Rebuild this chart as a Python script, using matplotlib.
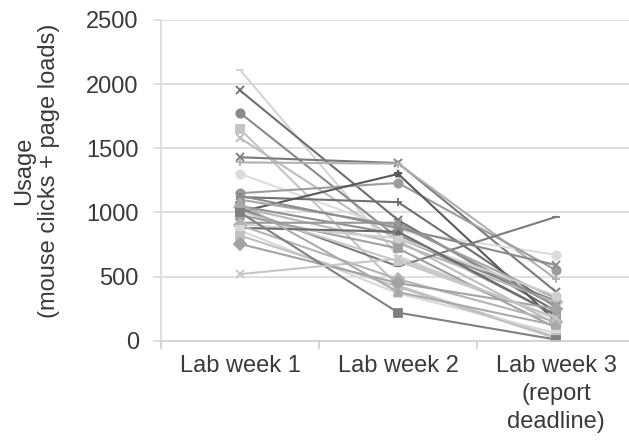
import matplotlib.pyplot as plt
from matplotlib.ticker import FixedLocator

plt.rcParams['font.family'] = ['Liberation Sans', 'DejaVu Sans']

weeks = ["Lab week 1", "Lab week 2", "Lab week 3\n(report\ndeadline)"]

# usage per student, one value per lab week
week1 = [2110, 1950, 1775, 1650, 1580, 1430, 1390, 1300, 1150, 1120,
         1005, 1100, 1050, 1040, 1030, 1010, 980, 920, 910, 880,
         900, 860, 820, 755, 1000, 520, 1070, 1130]
week2 = [660, 940, 800, 430, 780, 1385, 1380, 860, 1230, 1080,
         1300, 900, 830, 760, 580, 620, 720, 920, 800, 850,
         480, 370, 420, 450, 220, 640, 380, 880]
week3 = [170, 230, 310, 30, 130, 380, 480, 670, 550, 260,
         150, 330, 200, 300, 966, 180, 100, 270, 350, 200,
         150, 60, 20, 250, 10, 180, 120, 590]

colors = ["#d4d4d4", "#6e6e6e", "#8a8a8a", "#c4c4c4", "#bdbdbd", "#7a7a7a", "#b0b0b0",
          "#dcdcdc", "#9c9c9c", "#707070", "#5a5a5a", "#a6a6a6", "#8f8f8f", "#b8b8b8",
          "#7c7c7c", "#c8c8c8", "#a0a0a0", "#969696", "#cfcfcf", "#6a6a6a", "#b4b4b4",
          "#d8d8d8", "#c0c0c0", "#a3a3a3", "#808080", "#c6c6c6", "#aaaaaa", "#8c8c8c"]
markers = ["_", "x", "o", "s", "x", "x", "+", "o", "o", "+",
           "*", "^", "s", "D", "_", "^", "s", "x", "o", "*",
           "D", "s", "s", "D", "s", "x", "^", "x"]

fig = plt.figure(figsize=(6.29, 4.41), dpi=100)
ax = fig.add_axes([0.256, 0.227, 0.744, 0.728])

x = range(len(weeks))
for i in range(len(week1)):
    ax.plot(x, [week1[i], week2[i], week3[i]], color=colors[i], marker=markers[i],
            markersize=6, linewidth=1.5, markeredgewidth=1.3)

ax.set_ylim(0, 2500)
ax.set_xlim(-0.5, 2.46)
ax.set_yticks([0, 500, 1000, 1500, 2000, 2500])
ax.yaxis.grid(True, color="#d9d9d9", linewidth=1.2)
ax.set_axisbelow(True)

ax.set_xticks(list(x))
ax.set_xticklabels(weeks, linespacing=1.35)
ax.xaxis.set_minor_locator(FixedLocator([-0.5, 0.5, 1.5]))
ax.tick_params(axis="x", which="major", length=0, pad=10, labelsize=17, labelcolor="#3a3a3a")
ax.tick_params(axis="x", which="minor", length=6, color="#d0d0d0", width=1.2)
ax.tick_params(axis="y", length=6, color="#d9d9d9", width=1.2, pad=10, labelsize=17, labelcolor="#3a3a3a")

for s in ["top", "right"]:
    ax.spines[s].set_visible(False)
ax.spines["left"].set_color("#d9d9d9")
ax.spines["bottom"].set_color("#d0d0d0")
ax.spines["left"].set_linewidth(1.2)
ax.spines["bottom"].set_linewidth(1.2)

ax.set_ylabel("Usage\n(mouse clicks + page loads)", fontsize=17, color="#3a3a3a")
ax.yaxis.set_label_coords(-0.215, 0.53)

fig.savefig("out.png", dpi=100)
